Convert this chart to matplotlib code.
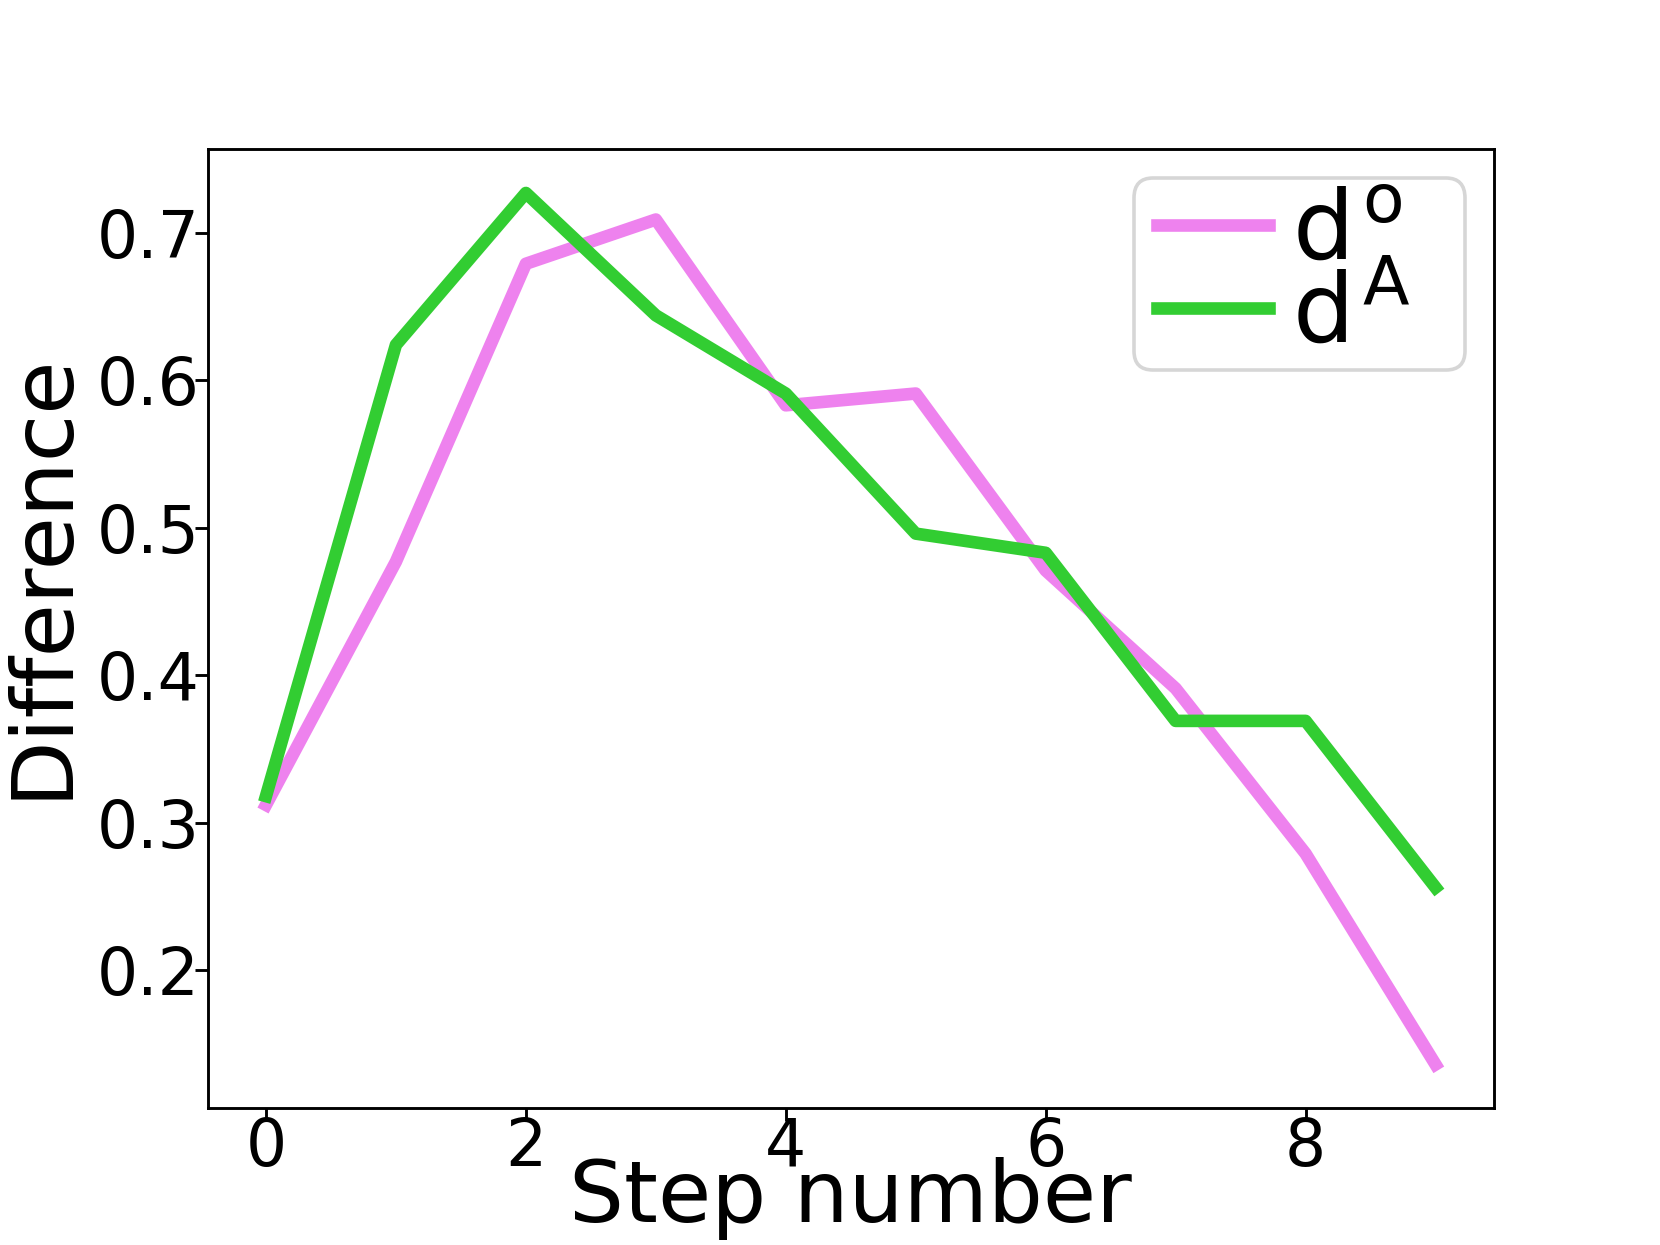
import matplotlib
matplotlib.use('Agg')
import matplotlib.pyplot as plt
from matplotlib.lines import Line2D
from matplotlib.legend_handler import HandlerLine2D
import numpy as np

steps = np.arange(10)
d_o = [0.312, 0.477, 0.679, 0.709, 0.583, 0.591, 0.471, 0.391, 0.279, 0.136]
d_A = [0.318, 0.624, 0.727, 0.644, 0.591, 0.496, 0.483, 0.369, 0.369, 0.256]

fig = plt.figure(figsize=(6.4, 4.8), dpi=259.375)
ax = plt.gca()

ax.plot(steps, d_o, color='violet', linewidth=3.5, label=r'd$\hspace{0.08}^{\mathrm{o}}$')
ax.plot(steps, d_A, color='limegreen', linewidth=3.5, label=r'd$\hspace{0.08}^{\mathrm{A}}$')

ax.set_xlabel('Step number', fontsize=24, labelpad=-6.5)
ax.set_ylabel('Difference', fontsize=24)
ax.yaxis.set_label_coords(-0.096, 0.556)

ax.tick_params(axis='both', labelsize=18, pad=-1.3)

# legend box stretched to the same width as in the original
ax.legend(loc='upper right', bbox_to_anchor=(0.720, 0, 0.2575, 0.9697),
          mode='expand', borderaxespad=0, fontsize=27, handlelength=1.315,
          labelspacing=-0.1, borderpad=0.08, handletextpad=0.23,
          handler_map={Line2D: HandlerLine2D(xpad=0.16)})

plt.savefig('out.png', dpi=259.375)
